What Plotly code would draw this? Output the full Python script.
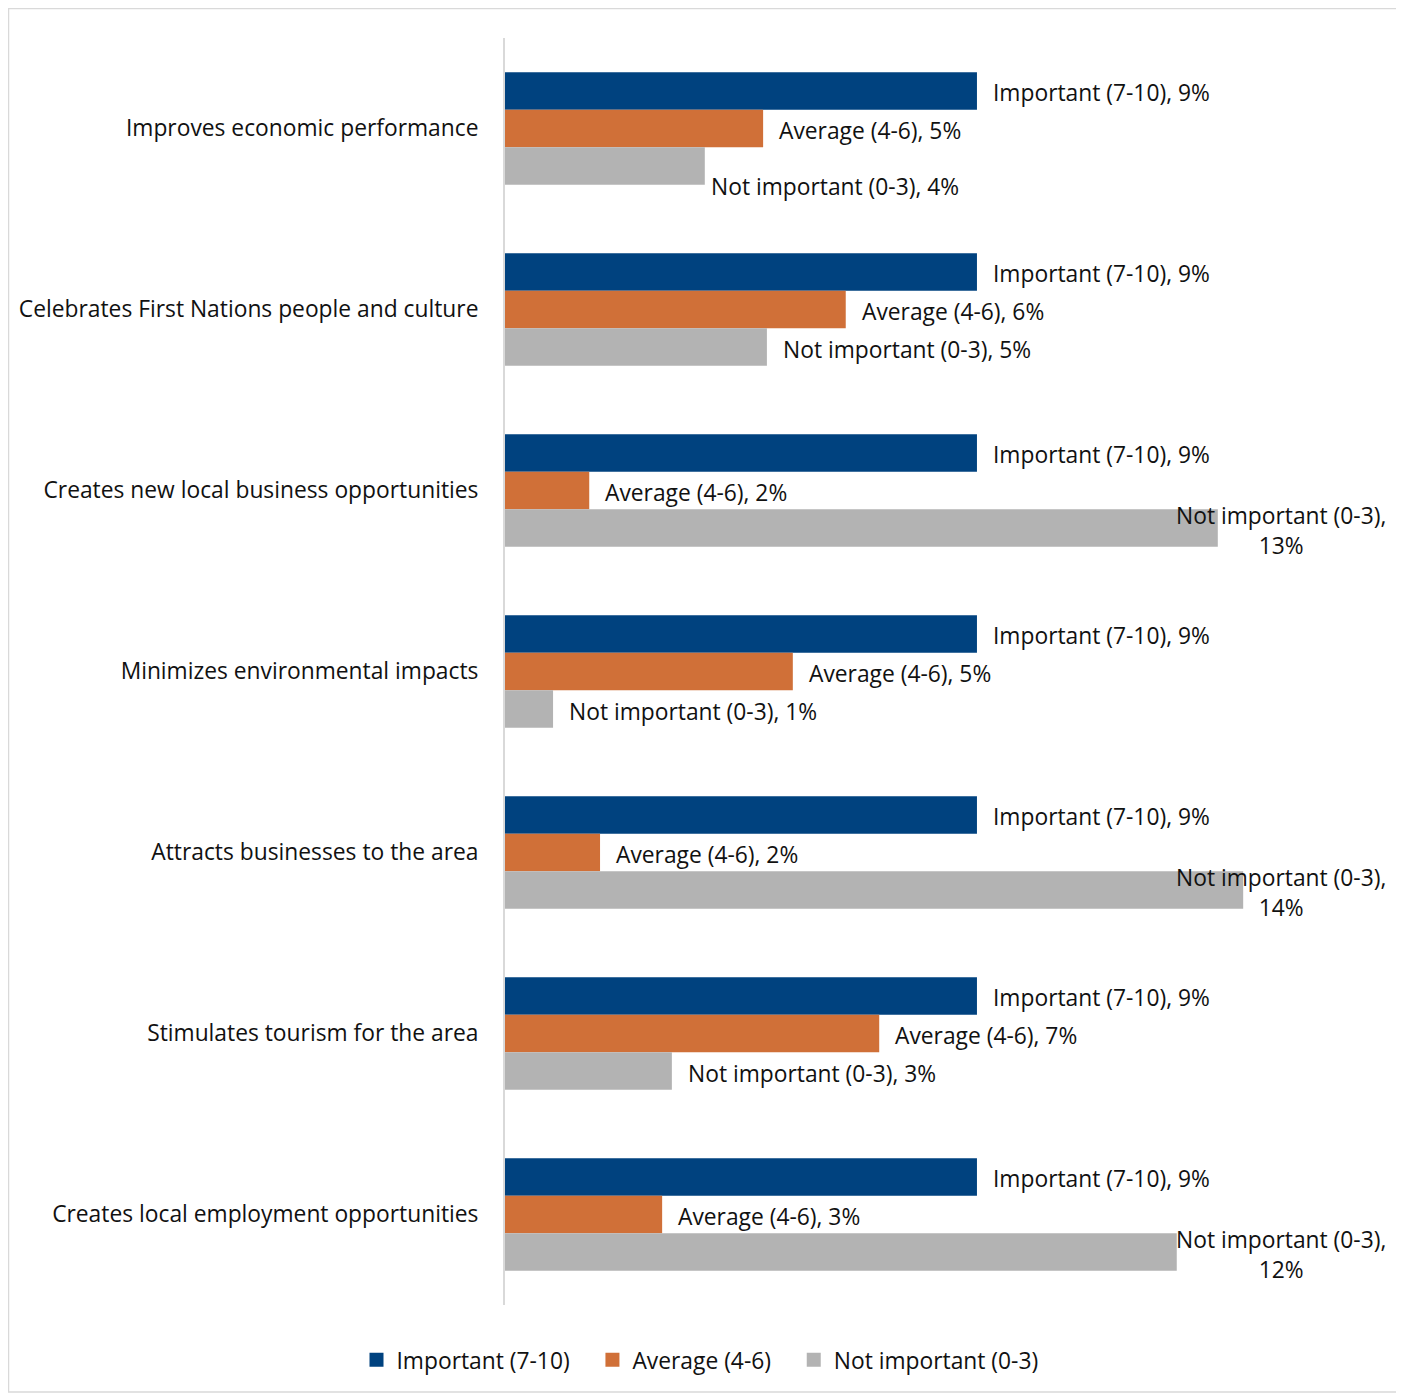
import plotly.graph_objects as go

categories = [
    "Improves economic performance",
    "Celebrates First Nations people and culture",
    "Creates new local business opportunities",
    "Minimizes environmental impacts",
    "Attracts businesses to the area",
    "Stimulates tourism for the area",
    "Creates local employment opportunities",
]
series_names = ["Important (7-10)", "Average (4-6)", "Not important (0-3)"]
important = [8.74, 8.74, 8.74, 8.74, 8.74, 8.74, 8.74]
average = [4.78, 6.31, 1.56, 5.33, 1.76, 6.93, 2.91]
not_important = [3.70, 4.85, 13.20, 0.89, 13.67, 3.09, 12.44]
colors = ["#00427F", "#D07038", "#B3B3B3"]

series_values = [important, average, not_important]
FONT = "Open Sans"
TXT = "#111111"
FS = 22.8
W, H = 1404, 1394
ML, MR, MT, MB = 497, 22, 30, 97
BARGAP = 0.378
PX_PER_UNIT = 54.0
XMAX = (W - ML - MR) / PX_PER_UNIT

# label nudges (pixels) for individual data labels: (series index, category index) -> (dx, dy)
label_nudge = {(2, 0): (-10, -18)}
legend_pad = ["\u00a0\u00a0\u00a0", "\u00a0\u00a0\u00a0", ""]

fig = go.Figure()
for k, (name, vals, col) in enumerate(zip(series_names, series_values, colors)):
    fig.add_trace(go.Bar(
        y=list(range(len(categories))), x=vals, name=name, orientation="h",
        marker=dict(color=col, line=dict(width=0)),
        hoverinfo="x+name", showlegend=False,
    ))
    fig.add_trace(go.Scatter(
        x=[None], y=[None], mode="markers", name=name + legend_pad[k],
        marker=dict(symbol="square", size=14, color=col),
        showlegend=True, hoverinfo="skip",
    ))

bw = (1 - BARGAP) / 3
annotations = []
for j, (name, vals) in enumerate(zip(series_names, series_values)):
    for i, v in enumerate(vals):
        yy = i + (j - 1) * bw
        dx, dy = label_nudge.get((j, i), (0, 0))
        if v > 10.5:
            annotations.append(dict(
                x=1, xref="paper", y=yy, yref="y", xanchor="right", yanchor="middle",
                xshift=-2 + dx, yshift=-2 + dy, align="center", showarrow=False,
                text=f"{name},<br>{round(v)}%",
                font=dict(family=FONT, size=FS, color=TXT),
            ))
        else:
            annotations.append(dict(
                x=v, xref="x", y=yy, yref="y", xanchor="left", yanchor="middle",
                xshift=14 + dx, yshift=-2 + dy, showarrow=False, text=f"{name}, {round(v)}%",
                font=dict(family=FONT, size=FS, color=TXT),
            ))

pw = W - ML - MR
ph = H - MT - MB
fig.add_shape(type="rect", xref="paper", yref="paper",
              x0=(0.5 - ML) / pw, x1=(1389 - ML) / pw,
              y0=(H - MB - 1384) / ph, y1=(H - MB - 0.5) / ph,
              line=dict(color="#D9D9D9", width=1.5), fillcolor="rgba(0,0,0,0)", layer="below")

fig.update_layout(
    width=W, height=H,
    margin=dict(l=ML, r=MR, t=MT, b=MB, pad=0, autoexpand=False),
    barmode="group", bargap=BARGAP, bargroupgap=0,
    plot_bgcolor="white", paper_bgcolor="white",
    font=dict(family=FONT, size=FS, color=TXT),
    annotations=annotations,
    showlegend=True,
    legend=dict(orientation="h", xref="container", yref="container",
                x=692 / W, xanchor="center", y=1 - 1352 / H, yanchor="middle",
                font=dict(family=FONT, size=FS, color=TXT),
                itemsizing="trace", traceorder="normal", itemwidth=30,
                tracegroupgap=0),
)
fig.update_xaxes(range=[0, XMAX], showgrid=False, showticklabels=False, zeroline=False,
                 showline=False, ticks="", automargin=False)
fig.update_yaxes(autorange="reversed", tickmode="array",
                 tickvals=list(range(len(categories))), ticktext=categories,
                 showgrid=False, zeroline=False, showline=True, linecolor="#D9D9D9",
                 linewidth=2, ticks="", ticklabelstandoff=20, automargin=False,
                 range=[len(categories) - 0.5, -0.5],
                 tickfont=dict(family=FONT, size=FS, color=TXT))

fig.write_html("out.html")
